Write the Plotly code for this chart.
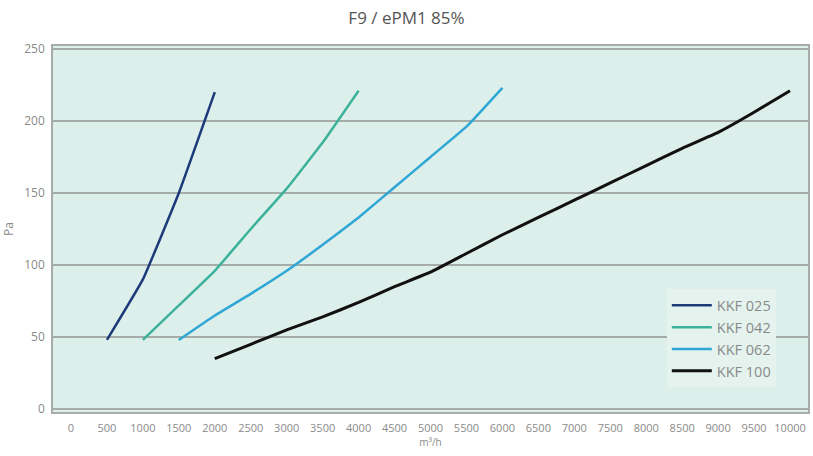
import plotly.graph_objects as go

title_text = "F9 / ePM1 85%"
x_label = "m³/h"
y_label = "Pa"
x_ticks = list(range(0, 10001, 500))
y_ticks = [0, 50, 100, 150, 200, 250]

series_names = ["KKF 025", "KKF 042", "KKF 062", "KKF 100"]
kkf025_x = [500, 1000, 1500, 2000]
kkf025_y = [48, 90, 150, 220]
kkf042_x = [1000, 1500, 2000, 2500, 3000, 3500, 4000]
kkf042_y = [48, 72, 96, 125, 153, 185, 221]
kkf062_x = [1500, 2000, 2500, 3000, 3500, 4000, 4500, 5000, 5500, 6000]
kkf062_y = [48, 65, 80, 96, 114, 133, 154, 175, 196, 223]
kkf100_x = [2000, 2500, 3000, 3500, 4000, 4500, 5000, 5500, 6000, 6500,
            7000, 7500, 8000, 8500, 9000, 9500, 10000]
kkf100_y = [35, 45, 55, 64, 74, 85, 95, 108, 121, 133,
            145, 157, 169, 181, 192, 206, 221]
colors = ["#1d3b7a", "#3cb29a", "#2fa7d6", "#111111"]

series_x = [kkf025_x, kkf042_x, kkf062_x, kkf100_x]
series_y = [kkf025_y, kkf042_y, kkf062_y, kkf100_y]

fig = go.Figure()
for name, xs, ys, c in zip(series_names, series_x, series_y, colors):
    fig.add_trace(go.Scatter(
        x=xs, y=ys, name=name, mode="lines",
        line=dict(color=c, width=3 if c == "#111111" else 2.5, shape="spline", smoothing=0.3),
    ))

grid_col = "#a6ada9"
fig.update_layout(
    width=813, height=456,
    margin=dict(l=53, r=5, t=46, b=44, autoexpand=False),
    paper_bgcolor="white",
    plot_bgcolor="#ddefea",
    font=dict(family="Open Sans", size=11, color="#8a8a8a"),
    title=dict(text=title_text, x=0.5, xanchor="center", y=0.96, yanchor="middle",
               font=dict(family="Open Sans", size=17, color="#555555")),
    showlegend=True,
    legend=dict(x=0.813, y=0.335, xanchor="left", yanchor="top",
                bgcolor="#e5f3ef", borderwidth=0,
                font=dict(family="Open Sans", size=14.5, color="#8a8a8a"),
                itemwidth=40, entrywidth=95, entrywidthmode="pixels"),
    xaxis=dict(range=[-250, 10250], tickvals=x_ticks, ticktext=[str(v) for v in x_ticks],
               automargin=False,
               showgrid=False, zeroline=False, showline=True, linecolor=grid_col,
               linewidth=1.5, mirror=True, ticks="", ticklabelstandoff=5,
               title=dict(text=x_label, standoff=0, font=dict(size=10, color="#8a8a8a")),
               tickfont=dict(size=11)),
    yaxis=dict(range=[-2, 252], tickvals=y_ticks, showgrid=True, gridcolor=grid_col,
               automargin=False,
               gridwidth=1.5, zeroline=False, showline=True, linecolor=grid_col,
               linewidth=1.5, mirror=True, ticks="", ticklabelstandoff=4,
               title=dict(text=y_label, standoff=12, font=dict(size=12, color="#8a8a8a")),
               tickfont=dict(size=12)),
)

fig.write_html("out.html", config={"displayModeBar": False},
               post_script="document.body.style.margin='0';")
